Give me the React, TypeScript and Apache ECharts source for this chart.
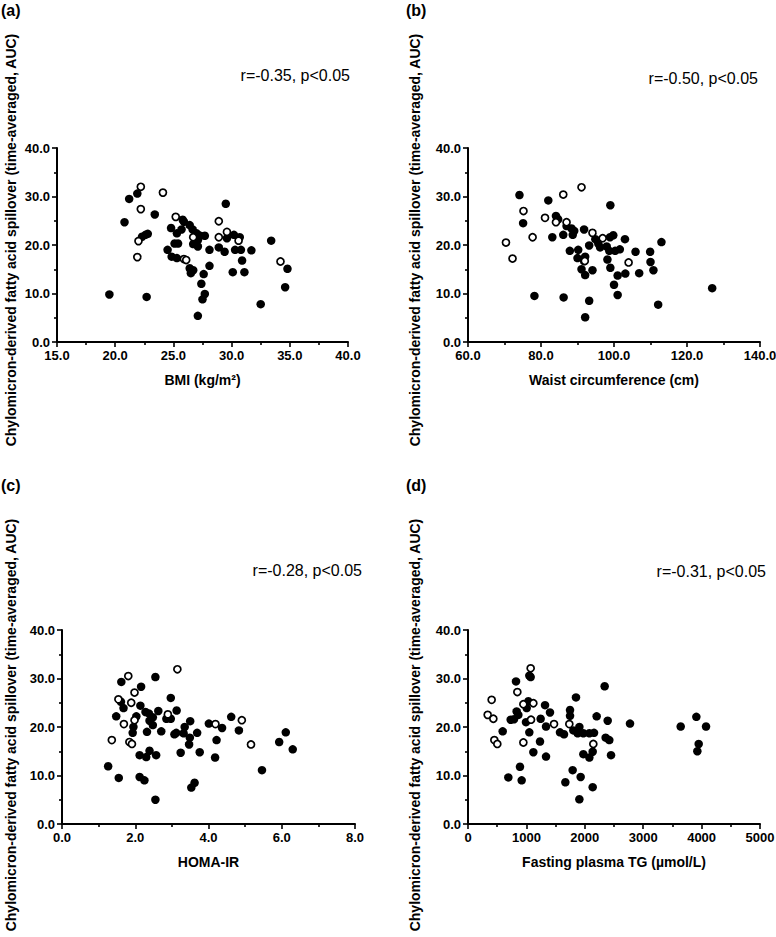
import React, { useEffect, useRef } from "react";
import * as echarts from "echarts";

// ---------- data ----------
const yTitle = "Chylomicron-derived fatty acid spillover (time-averaged, AUC)";
const panelLetters = ["(a)", "(b)", "(c)", "(d)"];
const statTexts = ["r=-0.35, p<0.05", "r=-0.50, p<0.05", "r=-0.28, p<0.05", "r=-0.31, p<0.05"];
const xTitles = ["BMI (kg/m²)", "Waist circumference (cm)", "HOMA-IR", "Fasting plasma TG (µmol/L)"];

// (a) BMI
const bmiOpen: [number, number][] = [
  [22.2, 32.0], [24.1, 30.8], [22.2, 27.4], [25.2, 25.8], [28.9, 24.9], [29.6, 22.7], [26.7, 21.6],
  [28.9, 21.6], [30.6, 20.9], [22.0, 20.8], [21.9, 17.5], [25.9, 17.1], [26.1, 16.9], [34.2, 16.6],
];
const bmiFilled: [number, number][] = [
  [21.9, 30.6], [21.2, 29.5], [29.5, 28.5], [23.4, 26.3], [20.8, 24.7], [25.8, 25.2], [25.9, 24.8],
  [26.4, 24.1], [24.8, 23.5], [25.7, 23.2], [26.65, 23.2], [25.3, 22.4], [27.0, 22.4], [27.3, 21.9],
  [27.7, 21.9], [22.8, 22.3], [22.6, 22.1], [22.3, 21.7], [25.1, 20.3], [25.4, 20.3], [26.7, 20.2],
  [27.1, 19.7], [27.1, 21.0], [28.1, 19.0], [28.9, 19.5], [29.4, 18.6], [29.6, 21.4], [30.2, 22.1],
  [30.7, 21.6], [30.3, 19.0], [30.8, 19.0], [31.7, 18.9], [33.4, 20.9], [24.5, 19.0], [24.85, 17.6],
  [25.3, 17.3], [26.4, 15.2], [26.7, 14.8], [26.5, 14.2], [28.1, 15.7], [30.9, 16.8], [30.1, 14.4],
  [31.1, 14.4], [27.6, 14.0], [27.4, 12.0], [27.7, 9.9], [27.5, 8.8], [27.1, 5.4], [19.5, 9.8],
  [22.7, 9.3], [32.5, 7.8], [34.8, 15.1], [34.6, 11.3],
];

// (b) Waist circumference
const waistOpen: [number, number][] = [
  [70.4, 20.5], [72.2, 17.2], [75.2, 27.0], [77.7, 21.6], [81.1, 25.6], [84.1, 24.7], [86.1, 30.4],
  [87.0, 24.7], [91.1, 31.9], [94.1, 22.5], [96.9, 21.4], [92.0, 16.7], [104.0, 16.4],
];
const waistFilled: [number, number][] = [
  [74.1, 30.3], [82.0, 29.2], [99.0, 28.2], [75.1, 24.5], [84.1, 26.0], [84.7, 25.3], [87.0, 23.9],
  [88.4, 23.4], [89.1, 22.9], [86.1, 22.1], [83.1, 21.6], [91.8, 23.2], [88.7, 22.1], [87.9, 18.8],
  [90.2, 19.0], [90.0, 17.3], [92.1, 17.6], [91.8, 16.7], [91.1, 15.0], [92.1, 13.8], [94.1, 14.8],
  [93.2, 19.9], [94.9, 21.2], [95.7, 20.3], [96.2, 19.5], [98.0, 19.7], [98.9, 21.6], [99.8, 22.0],
  [98.7, 18.8], [100.3, 18.8], [101.6, 19.1], [103.0, 21.2], [98.2, 17.0], [99.0, 15.3], [101.0, 13.7],
  [103.1, 14.1], [105.9, 18.6], [106.9, 14.2], [109.9, 18.6], [110.0, 16.5], [110.8, 14.8], [113.0, 20.6],
  [100.0, 11.8], [101.0, 9.7], [112.1, 7.7], [126.9, 11.1], [78.2, 9.5], [86.2, 9.2], [93.2, 8.5],
  [92.1, 5.1],
];

// (c) HOMA-IR
const homaOpen: [number, number][] = [
  [1.81, 30.5], [3.15, 31.9], [1.98, 27.1], [1.54, 25.7], [1.89, 25.0], [1.98, 21.4], [1.69, 20.6],
  [2.89, 22.6], [4.19, 20.6], [4.91, 21.4], [1.36, 17.3], [1.84, 16.9], [1.91, 16.5], [5.16, 16.4],
];
const homaFilled: [number, number][] = [
  [1.62, 29.3], [2.55, 30.3], [2.16, 28.3], [2.97, 26.0], [1.61, 25.2], [1.68, 23.9], [2.14, 24.4],
  [1.48, 22.2], [2.03, 22.2], [2.28, 23.1], [2.37, 22.8], [2.48, 22.0], [2.63, 23.3], [2.39, 21.3],
  [2.48, 20.4], [2.85, 21.7], [2.97, 21.7], [3.13, 23.4], [1.95, 20.0], [1.93, 18.8], [2.32, 19.0],
  [2.71, 19.1], [3.07, 18.5], [3.12, 18.8], [3.35, 20.0], [3.5, 21.2], [3.32, 18.7], [3.49, 17.8],
  [3.47, 16.4], [3.69, 18.8], [4.01, 20.7], [4.37, 19.8], [4.22, 17.3], [4.62, 22.1], [4.83, 19.3],
  [2.12, 14.2], [2.3, 13.8], [2.39, 15.1], [2.57, 14.2], [3.24, 14.7], [3.76, 14.8], [4.18, 13.7],
  [1.26, 11.9], [1.55, 9.5], [2.12, 9.7], [2.25, 9.0], [3.53, 7.5], [3.62, 8.5], [2.55, 5.0],
  [5.46, 11.1], [5.93, 16.9], [6.11, 18.9], [6.3, 15.4],
];

// (d) Fasting plasma TG
const tgOpen: [number, number][] = [
  [337, 22.5], [405, 25.6], [434, 21.7], [451, 17.3], [502, 16.5], [845, 27.2], [948, 24.7],
  [1073, 32.1], [1119, 24.9], [1079, 21.5], [948, 16.8], [1473, 20.6], [1735, 20.6], [2146, 16.5],
];
const tgFilled: [number, number][] = [
  [594, 19.1], [691, 9.6], [731, 21.5], [788, 21.6], [822, 29.4], [833, 23.2], [862, 22.5],
  [890, 11.8], [919, 9.0], [1005, 23.9], [1033, 25.3], [1050, 30.6], [1073, 30.3], [993, 21.0],
  [1050, 18.9], [1119, 14.8], [1233, 17.0], [1244, 21.7], [1319, 24.5], [1404, 23.0], [1336, 20.1],
  [1336, 13.9], [1575, 18.9], [1644, 18.5], [1747, 23.5], [1747, 22.3], [1804, 19.3], [1849, 26.1],
  [1907, 20.0], [1878, 18.7], [1975, 18.7], [2078, 18.7], [2158, 18.8], [2203, 22.2], [1975, 14.4],
  [2078, 13.7], [2135, 14.9], [2340, 28.4], [2392, 21.3], [2357, 17.8], [2420, 17.3], [2449, 14.2],
  [1667, 8.6], [1792, 11.1], [1929, 9.7], [1907, 5.1], [2135, 7.6], [2774, 20.7], [3642, 20.1],
  [3910, 22.1], [4076, 20.1], [3950, 16.5], [3927, 15.0],
];

const xMins = [15, 60, 0, 0];
const xMaxs = [40, 140, 8, 5000];
const xIntervals = [5, 20, 2, 1000];
const xDecimals = [1, 1, 1, 0];
const yTicks = { min: 0, max: 40, interval: 10 };

const openSets = [bmiOpen, waistOpen, homaOpen, tgOpen];
const filledSets = [bmiFilled, waistFilled, homaFilled, tgFilled];

// ---------- layout ----------
const grids = [
  { left: 57, top: 148, width: 291, height: 194 },
  { left: 468, top: 148, width: 292, height: 194 },
  { left: 62, top: 630, width: 293, height: 194 },
  { left: 468, top: 630, width: 292, height: 194 },
];
const letterPos = [[1, 10], [406, 10], [1, 485], [406, 485]];
const statPos = [[350, 75], [758, 78], [362, 570], [766, 571]];
const yTitlePos = [[11, 240], [415, 240], [11, 725], [415, 725]];

const FONT = "Arial, 'Liberation Sans', Helvetica, sans-serif";

export default function App() {
  const ref = useRef<HTMLDivElement>(null);
  useEffect(() => {
    if (!ref.current) return;
    const chart = echarts.init(ref.current, undefined, { renderer: "svg" });
    const axisLine = { show: true, onZero: false, lineStyle: { color: "#000", width: 2 } };
    const axisTick = { show: true, inside: false, length: 5, lineStyle: { color: "#000", width: 1.6 } };
    const minorTick = { show: true, splitNumber: 2, length: 3, lineStyle: { color: "#000", width: 1.6 } };

    const xAxis = grids.map((_, i) => ({
      type: "value",
      gridIndex: i,
      min: xMins[i],
      max: xMaxs[i],
      interval: xIntervals[i],
      axisLine,
      axisTick,
      minorTick,
      splitLine: { show: false },
      axisLabel: {
        color: "#000",
        fontWeight: "bold",
        fontSize: 13,
        fontFamily: FONT,
        margin: 7,
        formatter: (v: number) => v.toFixed(xDecimals[i]),
      },
      name: xTitles[i],
      nameLocation: "middle",
      nameGap: 31,
      nameTextStyle: { color: "#000", fontWeight: "bold", fontSize: 14, fontFamily: FONT },
    }));
    const yAxis = grids.map((_, i) => ({
      type: "value",
      gridIndex: i,
      min: yTicks.min,
      max: yTicks.max,
      interval: yTicks.interval,
      axisLine,
      axisTick,
      minorTick,
      splitLine: { show: false },
      axisLabel: {
        color: "#000",
        fontWeight: "bold",
        fontSize: 13,
        fontFamily: FONT,
        margin: 7,
        formatter: (v: number) => v.toFixed(1),
      },
    }));
    const series: any[] = [];
    grids.forEach((_, i) => {
      series.push({
        type: "scatter",
        xAxisIndex: i,
        yAxisIndex: i,
        data: filledSets[i],
        symbol: "circle",
        symbolSize: 8.5,
        itemStyle: { color: "#000", opacity: 1 },
        z: 2,
      });
      series.push({
        type: "scatter",
        xAxisIndex: i,
        yAxisIndex: i,
        data: openSets[i],
        symbol: "circle",
        symbolSize: 7,
        itemStyle: { color: "#fff", borderColor: "#000", borderWidth: 1.7, opacity: 1 },
        z: 3,
      });
    });
    const graphic: any[] = [];
    grids.forEach((_, i) => {
      graphic.push({
        type: "text",
        x: letterPos[i][0],
        y: letterPos[i][1],
        style: {
          text: panelLetters[i],
          fill: "#000",
          font: `bold 16px ${FONT}`,
          textAlign: "left",
          textVerticalAlign: "middle",
        },
      });
      graphic.push({
        type: "text",
        x: statPos[i][0],
        y: statPos[i][1],
        style: {
          text: statTexts[i],
          fill: "#000",
          font: `16px ${FONT}`,
          textAlign: "right",
          textVerticalAlign: "middle",
        },
      });
      graphic.push({
        type: "text",
        x: yTitlePos[i][0],
        y: yTitlePos[i][1],
        rotation: Math.PI / 2,
        style: {
          text: yTitle,
          fill: "#000",
          font: `bold 14px ${FONT}`,
          textAlign: "center",
          textVerticalAlign: "middle",
        },
      });
    });
    chart.setOption({
      animation: false,
      backgroundColor: "#fff",
      grid: grids.map((g) => ({ ...g, containLabel: false, outerBoundsMode: "none" })),
      xAxis,
      yAxis,
      series,
      graphic,
    });
    return () => chart.dispose();
  }, []);
  return (
    <div
      ref={ref}
      style={{ position: "absolute", left: 0, top: 0, width: 776, height: 937, background: "#fff" }}
    />
  );
}
